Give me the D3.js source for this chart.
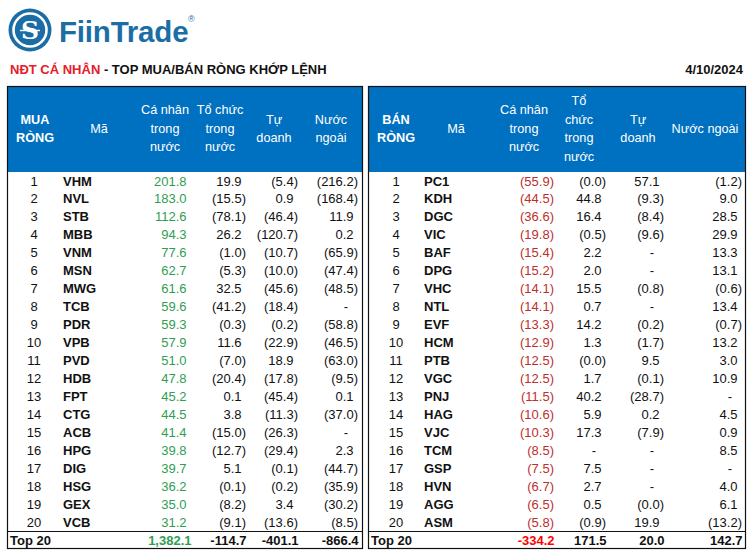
<!DOCTYPE html>
<html>
<head>
<meta charset="utf-8">
<script src="https://cdn.jsdelivr.net/npm/d3@7"></script>
<style>
  html, body { margin: 0; padding: 0; background: #fff; }
  svg { display: block; font-family: "Liberation Sans", Arial, sans-serif; }
</style>
</head>
<body>
<svg id="chart" width="754" height="560"></svg>
<script>
// ---------- DATA ----------
const reportDate = "4/10/2024";
const titleRed = "NĐT CÁ NHÂN";
const titleRest = " - TOP MUA/BÁN RÒNG KHỚP LỆNH";

const buyHeaders = [["MUA", "RÒNG"], ["Mã"], ["Cá nhân", "trong", "nước"], ["Tổ chức", "trong", "nước"], ["Tự", "doanh"], ["Nước", "ngoài"]];
const sellHeaders = [["BÁN", "RÒNG"], ["Mã"], ["Cá nhân", "trong", "nước"], ["Tổ", "chức", "trong", "nước"], ["Tự", "doanh"], ["Nước ngoài"]];

const buyTickers = ["VHM","NVL","STB","MBB","VNM","MSN","MWG","TCB","PDR","VPB","PVD","HDB","FPT","CTG","ACB","HPG","DIG","HSG","GEX","VCB"];
const buyCaNhan = [201.8,183.0,112.6,94.3,77.6,62.7,61.6,59.6,59.3,57.9,51.0,47.8,45.2,44.5,41.4,39.8,39.7,36.2,35.0,31.2];
const buyToChuc = [19.9,-15.5,-78.1,26.2,-1.0,-5.3,32.5,-41.2,-0.3,11.6,-7.0,-20.4,0.1,3.8,-15.0,-12.7,5.1,-0.1,-8.2,-9.1];
const buyTuDoanh = [-5.4,0.9,-46.4,-120.7,-10.7,-10.0,-45.6,-18.4,-0.2,-22.9,18.9,-17.8,-45.4,-11.3,-26.3,-29.4,-0.1,-0.2,3.4,-13.6];
const buyNuocNgoai = [-216.2,-168.4,11.9,0.2,-65.9,-47.4,-48.5,null,-58.8,-46.5,-63.0,-9.5,0.1,-37.0,null,2.3,-44.7,-35.9,-30.2,-8.5];
const buyTotals = [1382.1, -114.7, -401.1, -866.4];

const sellTickers = ["PC1","KDH","DGC","VIC","BAF","DPG","VHC","NTL","EVF","HCM","PTB","VGC","PNJ","HAG","VJC","TCM","GSP","HVN","AGG","ASM"];
const sellCaNhan = [-55.9,-44.5,-36.6,-19.8,-15.4,-15.2,-14.1,-14.1,-13.3,-12.9,-12.5,-12.5,-11.5,-10.6,-10.3,-8.5,-7.5,-6.7,-6.5,-5.8];
const sellToChuc = [-0.02,44.8,16.4,-0.5,2.2,2.0,15.5,0.7,14.2,1.3,-0.02,1.7,40.2,5.9,17.3,null,7.5,2.7,0.5,-0.9];
const sellTuDoanh = [57.1,-9.3,-8.4,-9.6,null,null,-0.8,null,-0.2,-1.7,9.5,-0.1,-28.7,0.2,-7.9,null,null,null,-0.02,19.9];
const sellNuocNgoai = [-1.2,9.0,28.5,29.9,13.3,13.1,-0.6,13.4,-0.7,13.2,3.0,10.9,null,4.5,0.9,8.5,null,4.0,6.1,-13.2];
const sellTotals = [-334.2, 171.5, 20.0, 142.7];
const totalLabel = "Top 20";

// ---------- STYLE / LAYOUT ----------
const BLUE = "#0070c0";
const LOGO = "#1b6ea5";
const GREEN = "#2f9e52";
const DARKRED = "#bd2f2c";
const RED = "#ff0000";
const svg = d3.select("#chart");
svg.append("rect").attr("width", 754).attr("height", 560).attr("fill", "#fff");

const f1 = d3.format(",.1f");
const fmtCell = v => v == null ? "-" : (v < 0 ? "(" + f1(-v) + ")" : f1(v));
const fmtTotal = v => (v < 0 ? "-" : "") + f1(Math.abs(v));

// Logo
const logo = svg.append("g");
logo.append("circle").attr("cx", 30).attr("cy", 30).attr("r", 21.5).attr("fill", LOGO);
logo.append("circle").attr("cx", 30).attr("cy", 30).attr("r", 16.5).attr("fill", "none").attr("stroke", "#fff").attr("stroke-width", 2.6);
logo.append("text").attr("x", 30).attr("y", 39).attr("text-anchor", "middle")
  .attr("font-family", "'DejaVu Serif', serif").attr("font-weight", "bold")
  .attr("font-size", 25).attr("fill", "#fff").text("S");
logo.append("line").attr("x1", 20).attr("x2", 40).attr("y1", 30.5).attr("y2", 30.5).attr("stroke", "#fff").attr("stroke-width", 1.4);
logo.append("text").attr("x", 59).attr("y", 42).attr("font-size", 29.5).attr("font-weight", "bold")
  .attr("fill", LOGO).attr("letter-spacing", -0.2).text("FiinTrade");
logo.append("text").attr("x", 188).attr("y", 22).attr("font-size", 9).attr("fill", LOGO).text("®");

// Title
const title = svg.append("text").attr("x", 10).attr("y", 74).attr("font-size", 13).attr("font-weight", "bold");
title.append("tspan").attr("fill", "#e3202a").text(titleRed);
title.append("tspan").attr("fill", "#111").text(titleRest);
svg.append("text").attr("x", 743).attr("y", 74).attr("text-anchor", "end").attr("font-size", 13)
  .attr("font-weight", "bold").attr("fill", "#111").text(reportDate);

// Row scale
const rowY = d3.scaleBand().domain(d3.range(20)).range([172, 531]);
const TOP = 86, HEAD_BOTTOM = 172, TOTAL_TOP = 531, BOTTOM = 549;

function drawTable(cfg) {
  const g = svg.append("g");
  // header
  g.append("rect").attr("x", cfg.x0).attr("y", TOP).attr("width", cfg.x1 - cfg.x0).attr("height", HEAD_BOTTOM - TOP).attr("fill", BLUE);
  cfg.headers.forEach((lines, ci) => {
    const n = lines.length;
    lines.forEach((t, li) => {
      g.append("text").attr("x", cfg.headX[ci]).attr("y", 128.5 + (li - (n - 1) / 2) * 18.5)
        .attr("dy", "0.35em").attr("text-anchor", "middle").attr("font-size", 12.7)
        .attr("font-weight", ci === 0 ? "bold" : "normal").attr("fill", "#fff").text(t);
    });
  });
  // body rows
  cfg.tickers.forEach((tk, i) => {
    const y = rowY(i) + rowY.bandwidth() / 2;
    g.append("text").attr("x", cfg.rankX).attr("y", y).attr("dy", "0.35em").attr("text-anchor", "middle")
      .attr("font-size", 13).attr("fill", "#111").text(i + 1);
    g.append("text").attr("x", cfg.codeX).attr("y", y).attr("dy", "0.35em")
      .attr("font-size", 13).attr("font-weight", "bold").attr("fill", "#111").text(tk);
    cfg.cols.forEach((arr, ci) => {
      const v = arr[i];
      const edge = cfg.numEdge[ci];
      const t = g.append("text").attr("y", y).attr("dy", "0.35em").attr("font-size", 13)
        .attr("fill", ci === 0 ? cfg.firstColor : "#111").text(fmtCell(v));
      if (v == null) t.attr("x", edge - 12).attr("text-anchor", "middle");
      else if (v < 0) t.attr("x", edge).attr("text-anchor", "end");
      else t.attr("x", edge - 4.5).attr("text-anchor", "end");
    });
  });
  // total row
  const ty = (TOTAL_TOP + BOTTOM) / 2;
  g.append("text").attr("x", cfg.x0 + 3).attr("y", ty).attr("dy", "0.35em").attr("font-size", 13)
    .attr("font-weight", "bold").attr("fill", "#111").text(totalLabel);
  cfg.totals.forEach((v, ci) => {
    g.append("text").attr("x", cfg.numEdge[ci] + 0.5).attr("y", ty).attr("dy", "0.35em").attr("text-anchor", "end")
      .attr("font-size", 13).attr("font-weight", "bold")
      .attr("fill", ci === 0 ? cfg.totalColor : "#111").text(fmtTotal(v));
  });
  // borders
  g.append("line").attr("x1", cfg.x0).attr("x2", cfg.x1).attr("y1", TOTAL_TOP + 0.5).attr("y2", TOTAL_TOP + 0.5)
    .attr("stroke", "#111").attr("stroke-width", 1.2);
  g.append("rect").attr("x", cfg.x0 + 0.5).attr("y", TOP + 0.5).attr("width", cfg.x1 - cfg.x0 - 1)
    .attr("height", BOTTOM - TOP - 1).attr("fill", "none").attr("stroke", "#111").attr("stroke-width", 1.2);
}

drawTable({
  x0: 7, x1: 363, headers: buyHeaders, headX: [35, 99, 165, 220, 274, 331],
  rankX: 34, codeX: 63, numEdge: [191, 246, 298, 358],
  tickers: buyTickers, cols: [buyCaNhan, buyToChuc, buyTuDoanh, buyNuocNgoai],
  totals: buyTotals, firstColor: GREEN, totalColor: GREEN
});
drawTable({
  x0: 368, x1: 746, headers: sellHeaders, headX: [396, 456, 524, 579, 638, 705],
  rankX: 396, codeX: 424, numEdge: [554, 606, 664, 742],
  tickers: sellTickers, cols: [sellCaNhan, sellToChuc, sellTuDoanh, sellNuocNgoai],
  totals: sellTotals, firstColor: DARKRED, totalColor: RED
});
</script>
</body>
</html>
